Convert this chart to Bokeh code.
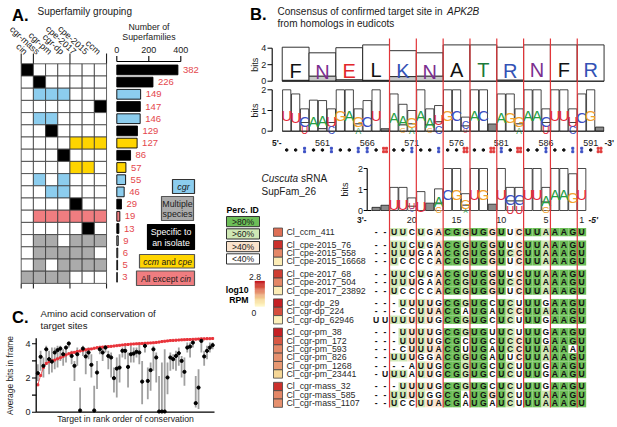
import numpy as np
from bokeh.plotting import figure
from bokeh.models import Range1d, ColumnDataSource, LinearColorMapper
from bokeh.layouts import row, column
from bokeh.embed import file_html
from bokeh.resources import INLINE
from bokeh.core.properties import value

FONT = "Liberation Sans"
NARROW = "Liberation Sans Narrow, Liberation Sans"

# ====================== DATA ======================
# ---- Panel A: superfamily grouping ----
isolates = ["cin", "cgr-mass", "cgr-pm", "cgr-dp", "cpe-2017", "cpe-2015", "ccm"]
superfamily_counts = [382, 226, 149, 147, 146, 129, 127, 86, 57, 55, 46, 29, 19, 13, 9, 6, 5, 3]
membership = ["1000000", "0100000", "0111000", "0000001", "0110000", "0010000",
              "0000111", "0001000", "0000110", "0101000", "0011000", "0000100",
              "0111111", "0000010", "0110111", "0111110", "0101111", "1111000"]
group_class = ["isolate", "isolate", "cgr", "isolate", "cgr", "isolate",
               "ccm_cpe", "isolate", "ccm_cpe", "cgr", "cgr", "isolate",
               "all_but_cin", "isolate", "multiple", "multiple", "multiple", "multiple"]
class_colors = {"isolate": "#000000", "cgr": "#8CCDEE", "ccm_cpe": "#FFD500",
                "all_but_cin": "#F07D80", "multiple": "#ABABAB"}
count_ticks = [0, 200, 400]

# ---- Panel B: logos ----
codon_aa = ["F", "N", "E", "L", "K", "N", "A", "T", "R", "N", "F", "R"]
aa_bits = [4.12, 3.44, 4.06, 4.40, 3.70, 3.44, 4.40, 4.40, 4.12, 4.40, 4.40, 4.40]
aa_minor_bits = [0.10, 0.60, 0.15, 0.10, 0.55, 0.60, 0.0, 0.0, 0.12, 0.0, 0.0, 0.0]
aa_colors = {"F": "#111111", "N": "#7B2E8F", "E": "#E2262B", "L": "#111111",
             "K": "#3352B5", "A": "#111111", "T": "#1B7A3B", "R": "#3352B5"}

nt_positions = list(range(557, 593))
nt_total = [2.0, 1.8, 1.08, 1.5, 1.48, 1.08, 2.0, 2.0, 1.08, 1.48, 2.0, 0.12,
            1.8, 1.3, 1.0, 2.0, 1.08, 1.24, 2.0, 2.0, 0.68, 2.0, 2.0, 0.35,
            1.8, 1.8, 1.08, 2.0, 2.0, 1.08, 2.0, 2.0, 1.08, 1.8, 2.0, 0.2]
nt_main = ["U", "U", "C", "A", "A", "U", "G", "A", "G", "C", "U", "",
           "A", "A", "G", "A", "A", "U", "G", "C", "C", "A", "C", "",
           "A", "G", "G", "A", "A", "C", "U", "U", "U", "C", "G", ""]
nt_second = ["", "", "U", "", "G", "C", "", "", "A", "", "", "",
             "", "G", "A", "", "G", "C", "", "", "U", "", "", "",
             "", "", "A", "", "", "U", "", "", "C", "", "", ""]
nt_second_bits = [0, 0, 0.42, 0, 0.12, 0.42, 0, 0, 0.35, 0, 0, 0,
                  0, 0.30, 0.35, 0, 0.30, 0.45, 0, 0, 0.25, 0, 0, 0,
                  0, 0, 0.35, 0, 0, 0.42, 0, 0, 0.42, 0, 0, 0]
pair_marks = "..b..b..bb.r..b..b..r..rb.r..b..bb.r"
pos_ticks = [561, 566, 571, 576, 581, 586, 591]

srna_pos = list(range(24, 0, -1))
sr_total = [0.15, 0.25, 1.1, 1.1, 0.6, 0.9, 0.35, 1.03, 2.0, 2.0, 0.8, 2.0,
            2.0, 0.3, 2.0, 1.1, 1.1, 2.0, 2.0, 1.1, 2.0, 2.0, 1.75, 2.0]
sr_main = ["", "", "U", "U", "U", "U", "", "A", "C", "G", "G", "U",
           "G", "", "U", "C", "C", "U", "U", "A", "A", "A", "G", "U"]
sr_second = ["", "", "", "", "C", "", "", "G", "", "", "A", "",
             "", "", "", "U", "U", "", "", "G", "", "", "", ""]
sr_second_bits = [0, 0, 0, 0, 0.2, 0, 0, 0.35, 0, 0, 0.25, 0,
                  0, 0, 0, 0.45, 0.45, 0, 0, 0.4, 0, 0, 0, 0]
srna_ticks = [20, 15, 10, 5, 1]

aln_names = ["Cl_ccm_411", "Cl_cpe-2015_76", "Cl_cpe-2015_558", "Cl_cpe-2015_16668",
             "Cl_cpe-2017_68", "Cl_cpe-2017_504", "Cl_cpe-2017_23892",
             "Cl_cgr-dp_29", "Cl_cgr-dp_224", "Cl_cgr-dp_62946",
             "Cl_cgr-pm_38", "Cl_cgr-pm_172", "Cl_cgr-pm_593", "Cl_cgr-pm_826",
             "Cl_cgr-pm_1268", "Cl_cgr-pm_23441",
             "Cl_cgr-mass_32", "Cl_cgr-mass_585", "Cl_cgr-mass_1107"]
aln_groups = [0, 1, 1, 1, 2, 2, 2, 3, 3, 3, 4, 4, 4, 4, 4, 4, 5, 5, 5]
aln_seqs = ["--UUCUGACGGUGGUUCUUAAAGU", "--UUCUGACGGUGGUUCUUAAAGU",
            "--UUUGAACGGUGGUCCUUAAAGU", "--UCCCCACGGUGGUUCUUAAAGU",
            "--UUCUGACGGUGGUUCUUAAAGU", "--UUUGAACGGUGGUCCUUAAAGU",
            "--UCCCCACGGUGGUUCUUAAAGU", "---UUUUGCGGUGCUCUUUGAAGU",
            "---CCUUACGAUGAUCCUUAAAGU", "UUUUUUUGCGGUGCUCUUUGAAGU",
            "---UUUUGCGGUGUUCUUUGAAGU", "---UUUUGCGCUGCUCCUUGAAGU",
            "---CUUUACGUUGAUCCUUAAAAU", "--UUUGGACGGUGAUUCUUAAAGU",
            "----AUUGCGGUGCUCUUUGAAGU", "-UUUAUUGCGGUGCUCUUUGAAGU",
            "---UUUUGCGGUGCUCUUUGAAGU", "--UUUUGGCGAUGGUCUUUAAAGU",
            "--UCCUUACGAUGAUCUUUAAAGU"]
rpm_log10 = [1.9, 2.5, 1.7, 0.3, 2.4, 1.7, 0.3, 2.7, 2.2, 0.2, 2.7, 2.1, 1.7, 1.6, 1.5, 0.8, 2.5, 1.7, 1.6]

# ---- Panel C: amino-acid conservation ----
target_rank = list(range(1, 64))
aa_mean = [2.28, 3.24, 2.71, 3.68, 3.10, 2.96, 3.49, 3.63, 3.72, 3.39, 3.78, 4.02, 3.29, 2.71, 3.39,
           0.10, 3.72, 3.26, 3.49, 2.77, 0.10, 2.32, 3.68, 3.49, 3.78, 3.29, 3.20, 1.99, 2.55, 2.61,
           3.59, 3.59, 2.65, 3.39, 3.43, 3.53, 3.49, 1.79, 3.88, 1.83, 2.46, 3.68, 3.20, 0.04, 0.04,
           0.04, 2.03, 3.20, 3.10, 3.29, 3.45, 3.00, 2.36, 3.78, 3.84, 4.07, 0.53, 1.44, 4.17, 3.26,
           3.59, 3.78, 3.92]
aa_hi = [2.81, 3.59, 3.20, 3.88, 3.59, 3.78, 3.78, 3.88, 3.88, 3.68, 3.88, 4.11, 3.59, 3.00, 3.78,
         1.44, 3.88, 3.59, 3.78, 3.39, 1.54, 3.00, 3.88, 3.78, 3.92, 3.59, 3.49, 2.61, 3.20, 3.39,
         3.78, 3.88, 3.49, 3.88, 3.78, 3.78, 3.98, 3.00, 4.07, 2.61, 2.90, 3.88, 3.49, 2.12, 2.90,
         3.68, 2.90, 3.49, 3.39, 3.59, 3.78, 3.29, 3.20, 4.07, 4.07, 4.17, 2.12, 2.51, 4.27, 3.59,
         3.88, 4.07, 4.07]
aa_lo = [1.83, 2.42, 2.03, 2.81, 2.22, 2.32, 2.51, 2.61, 3.00, 2.71, 2.90, 3.78, 2.81, 1.83, 2.71,
         0.0, 3.29, 2.22, 3.10, 2.03, 0.0, 1.35, 3.39, 3.00, 3.49, 2.51, 2.03, 1.15, 0.86, 1.73,
         3.20, 3.10, 1.44, 2.90, 2.90, 3.20, 2.81, 0.47, 3.49, 0.76, 1.25, 2.42, 1.73, 0.0, 0.0,
         0.0, 1.05, 2.42, 2.51, 2.42, 2.71, 2.03, 1.54, 3.49, 3.20, 3.78, 0.27, 0.18, 3.49, 2.71,
         3.10, 3.49, 3.68]
nt_conservation = [1.60, 2.15, 2.62, 2.85, 2.95, 3.00, 3.05, 3.12, 3.18, 3.27,
                   3.35, 3.42, 3.47, 3.50, 3.55, 3.58, 3.62, 3.65, 3.68, 3.70,
                   3.74, 3.77, 3.79, 3.81, 3.82, 3.84, 3.85, 3.87, 3.89, 3.91,
                   3.93, 3.95, 3.96, 3.98, 3.99, 4.00, 4.01, 4.02, 4.03, 4.04,
                   4.05, 4.06, 4.08, 4.10, 4.13, 4.15, 4.17, 4.19, 4.20, 4.21,
                   4.22, 4.23, 4.24, 4.25, 4.25, 4.26, 4.27, 4.28, 4.29, 4.29,
                   4.30, 4.30, 4.31]
bits_ticks = [0, 1, 2, 3, 4]

NT_COL = {"A": "#25A043", "C": "#3B4FC4", "G": "#F2A22C", "U": "#E5283A"}

# page geometry (pixels of the 617 x 427 page)
W, H, XSPLIT, YSPLIT = 617, 427, 220, 300

# ====================== HELPERS ======================
def lin(ref_a, val_a, ref_b, val_b):
    k = (val_b - val_a) / (ref_b - ref_a)
    return lambda ref: val_a + (ref - ref_a) * k


def mkfig(w, h, xr, yr):
    p = figure(width=w, height=h, x_range=xr, y_range=yr, output_backend="svg",
               toolbar_location=None, x_axis_type=None, y_axis_type=None,
               min_border=0, min_border_left=0, min_border_right=0,
               min_border_top=0, min_border_bottom=0)
    p.outline_line_color = None
    p.background_fill_color = "white"
    p.border_fill_color = "white"
    return p


def txt(p, x, y, s, size, color="#1a1a1a", align="left", baseline="middle",
        style="normal", angle=0.0, xr="px", yr="py", font=FONT):
    xs = list(x) if isinstance(x, (list, tuple)) else [x]
    n = len(xs)
    ys = list(y) if isinstance(y, (list, tuple)) else [y] * n
    if len(ys) > n:
        xs = xs * len(ys)
        n = len(ys)
    ss = list(s) if isinstance(s, (list, tuple)) else [s] * n
    src = ColumnDataSource(dict(x=xs, y=ys, t=ss))
    p.text(x="x", y="y", text="t", source=src, text_font=value(font),
           text_font_size=f"{size}px", text_color=color, text_align=align,
           text_baseline=baseline, text_font_style=style, angle=angle,
           x_range_name=xr, y_range_name=yr)


def draw_logo(p, xs, totals, mains, seconds, sec_bits, yname, ppb, maxfont, colors, font,
              boxw=0.92, empty_fill="#8a8a8a"):
    left = [x - boxw / 2 for x in xs]
    right = [x + boxw / 2 for x in xs]
    mb = [sb if s else 0.0 for s, sb in zip(seconds, sec_bits)]
    fill = ["white" if m else empty_fill for m in mains]
    p.quad(left=left, right=right, bottom=mb, top=totals, fill_color=fill,
           line_color="#1a1a1a", line_width=0.8, y_range_name=yname)
    idx = [i for i, s in enumerate(seconds) if s]
    if idx:
        p.quad(left=[left[i] for i in idx], right=[right[i] for i in idx],
               bottom=[0.0] * len(idx), top=[sec_bits[i] for i in idx],
               fill_color="white", line_color="#1a1a1a", line_width=0.7, y_range_name=yname)
    lx, ly, lt, lc, lf = [], [], [], [], []
    for i, x in enumerate(xs):
        entries = []
        if mains[i]:
            entries.append((mains[i], mb[i], totals[i]))
        if seconds[i]:
            entries.append((seconds[i], 0.0, sec_bits[i]))
        for letter, b0, b1 in entries:
            hpx = (b1 - b0) * ppb
            f = min(maxfont, hpx * 0.84 / 0.716)
            if f < 4.5:
                continue
            cap = 0.716 * f
            lx.append(x)
            ly.append((b0 + b1) / 2 - (cap / 2) / ppb)
            lt.append(letter)
            lc.append(colors[letter])
            lf.append(f"{f:.1f}px")
    src = ColumnDataSource(dict(x=lx, y=ly, t=lt, c=lc, f=lf))
    p.text(x="x", y="y", text="t", text_color="c", text_font_size="f", source=src,
           text_align="center", text_baseline="alphabetic", text_font=value(font),
           y_range_name=yname)


# ====================== PANEL A ======================
colx = lin(26.8, 0, 38.99, 1)          # matrix column index
rowy = lin(69.4, 0, 81.6, 1)           # row index
barv = lin(116.3, 0, 180.3, 400)       # superfamily count
pA = mkfig(XSPLIT, YSPLIT, Range1d(colx(0), colx(XSPLIT)), Range1d(rowy(YSPLIT), rowy(0)))
pA.extra_x_ranges = {"bars": Range1d(barv(0), barv(XSPLIT)), "px": Range1d(0, XSPLIT)}
pA.extra_y_ranges = {"py": Range1d(YSPLIT, 0)}

cx, cy, cc = [], [], []
for r, (mem, cls) in enumerate(zip(membership, group_class)):
    for c, ch in enumerate(mem):
        cx.append(c)
        cy.append(r)
        cc.append(class_colors[cls] if ch == "1" else "white")
pA.rect(x=cx, y=cy, width=1, height=1, fill_color=cc, line_color="#3a3a3a", line_width=0.8)
sep = [-0.5, 0.5, 3.5, 6.5]
pA.segment(x0=sep, y0=[rowy(53)] * 4, x1=sep, y1=[-0.5] * 4, line_color="#222", line_width=1.1)
pA.segment(x0=sep, y0=[17.5] * 4, x1=sep, y1=[rowy(288)] * 4, line_color="#222", line_width=1.1)

rows = list(range(len(superfamily_counts)))
pA.hbar(y=rows, left=0, right=superfamily_counts, height=0.8,
        fill_color=[class_colors[c] for c in group_class], line_color="black",
        line_width=0.9, x_range_name="bars")
src_v = ColumnDataSource(dict(x=superfamily_counts, y=rows, t=[str(v) for v in superfamily_counts]))
pA.text(x="x", y="y", text="t", source=src_v, x_offset=5, x_range_name="bars",
        text_color="#E4474C", text_font_size="9.5px", text_baseline="middle",
        text_font=value(FONT))
# count axis (top)
pA.segment(x0=[0], y0=[61], x1=[400], y1=[61], x_range_name="bars", y_range_name="py",
           line_color="black", line_width=1.1)
pA.segment(x0=count_ticks, y0=[55.5] * 3, x1=count_ticks, y1=[61] * 3,
           x_range_name="bars", y_range_name="py", line_color="black", line_width=1.1)
txt(pA, count_ticks, 49.5, [str(t) for t in count_ticks], 9, align="center", xr="bars")
txt(pA, 148.5, 26, "Number of", 8.8, align="center")
txt(pA, 148.5, 36.5, "Superfamilies", 8.8, align="center")
# isolate column labels, slanted down to the right
txt(pA, [c - 0.1 for c in range(7)], 52.5, isolates, 9, align="right",
    angle=-0.75, xr="default")
txt(pA, 11.5, 14, "A.", 16.5, style="bold", color="black")
txt(pA, 37, 11, "Superfamily grouping", 10)

# legend boxes
lg = [(172, 194, 179, 193, class_colors["cgr"], "#333"),
      (161, 193, 196, 220, class_colors["multiple"], "#555"),
      (147, 194, 224, 249, class_colors["isolate"], "#000"),
      (139, 194, 254, 267.5, class_colors["ccm_cpe"], "#555"),
      (136, 194, 270.5, 285, class_colors["all_but_cin"], "#555")]
pA.quad(left=[a[0] for a in lg], right=[a[1] for a in lg], top=[a[2] for a in lg],
        bottom=[a[3] for a in lg], fill_color=[a[4] for a in lg], line_color=[a[5] for a in lg],
        line_width=1.2, x_range_name="px", y_range_name="py")
txt(pA, 183, 186, "cgr", 9, style="italic", align="center")
txt(pA, 177, 203, "Multiple", 8.8, align="center")
txt(pA, 177, 213.5, "species", 8.8, align="center")
txt(pA, 170.5, 231, "Specific to", 8.8, align="center", color="white")
txt(pA, 170.5, 242, "an isolate", 8.8, align="center", color="white")
txt(pA, 142.7, 261, "ccm", 8.6, style="italic")
txt(pA, 160.9, 261, "and", 8.6)
txt(pA, 177.6, 261, "cpe", 8.6, style="italic")
txt(pA, 140.5, 278, "All except", 8.5)
txt(pA, 179.5, 278, "cin", 8.5, style="italic")

# ====================== PANEL C ======================
ix = lin(37.3, 1, 40.12, 2)
by = lin(411.7, 0, 394.6, 1)
pC = mkfig(XSPLIT, H - YSPLIT, Range1d(ix(0), ix(XSPLIT)), Range1d(by(H), by(YSPLIT)))
pC.extra_x_ranges = {"px": Range1d(0, XSPLIT)}
pC.extra_y_ranges = {"py": Range1d(H, YSPLIT)}
pC.segment(x0=target_rank, y0=aa_lo, x1=target_rank, y1=aa_hi, line_color="#a0a0a0", line_width=1.8)
pC.line(target_rank, nt_conservation, line_color="#E8333A", line_width=0.8)
pC.scatter(target_rank, nt_conservation, marker="square", size=2.0, color="#E8333A")
pC.scatter(target_rank, aa_mean, size=3.2, color="black")
pC.segment(x0=[35.7], y0=[0], x1=[35.7], y1=[4.32], x_range_name="px", line_color="black", line_width=1.3)
pC.segment(x0=[31.5] * 5, y0=bits_ticks, x1=[35.7] * 5, y1=bits_ticks, x_range_name="px",
           line_color="black", line_width=1.1)
pC.segment(x0=[35.7], y0=[0], x1=[214], y1=[0], x_range_name="px", line_color="black", line_width=1.3)
txt(pC, 30, [0, 2, 4], ["0", "2", "4"], 9, align="right", yr="default")
txt(pC, 9, 375, "Average bits in frame", 8.4, align="center", angle=np.pi / 2)
txt(pC, 125, 418.5, "Target in rank order of conservation", 8.7, align="center")
txt(pC, 11.5, 316, "C.", 16.5, style="bold", color="black")
txt(pC, 40, 313, "Amino acid conservation of", 9.6)
txt(pC, 40, 325, "target sites", 9.6)

# ====================== PANEL B ======================
ntx = lin(286.2, 557, 295.14, 558)
aab = lin(80.7, 0, 72.45, 1)
ntb = lin(130.7, 0, 110.0, 1)
srb = lin(210.0, 0, 189.0, 1)
alq = lin(231.7, 0, 240.04, 1)
pB = mkfig(W - XSPLIT, H, Range1d(ntx(XSPLIT), ntx(W)), Range1d(H, 0))
pB.extra_x_ranges = {"px": Range1d(XSPLIT, W)}
pB.extra_y_ranges = {"py": Range1d(H, 0), "aa": Range1d(aab(H), aab(0)),
                     "nt": Range1d(ntb(H), ntb(0)), "sr": Range1d(srb(H), srb(0)),
                     "aln": Range1d(alq(H), alq(0))}

txt(pB, 249.5, 13, "B.", 16.5, style="bold", color="black")
txt(pB, 277, 10.5, "Consensus of confirmed target site in", 10)
txt(pB, 446.5, 10.5, "APK2B", 10, style="italic")
txt(pB, 277, 22.5, "from homologs in eudicots", 10)

# amino-acid logo
codon_center = [558 + 3 * i for i in range(12)]
pB.quad(left=[c - 1.5 for c in codon_center], right=[c + 1.5 for c in codon_center],
        bottom=aa_minor_bits, top=aa_bits, fill_color="white", line_color="#1a1a1a",
        line_width=0.9, y_range_name="aa")
mi = [i for i, m in enumerate(aa_minor_bits) if m > 0]
pB.quad(left=[codon_center[i] - 1.5 for i in mi], right=[codon_center[i] + 1.5 for i in mi],
        bottom=[0] * len(mi), top=[aa_minor_bits[i] for i in mi], fill_color="#c8c8c8",
        line_color="#1a1a1a", line_width=0.8, y_range_name="aa")
aa_font = 20
aa_y = [(m + t) / 2 - (0.716 * aa_font / 2) / 8.25 for m, t in zip(aa_minor_bits, aa_bits)]
src_aa = ColumnDataSource(dict(x=codon_center, y=aa_y, t=codon_aa, c=[aa_colors[a] for a in codon_aa]))
pB.text(x="x", y="y", text="t", text_color="c", source=src_aa, text_font_size=f"{aa_font}px",
        text_align="center", text_baseline="alphabetic", text_font=value(FONT), y_range_name="aa")

# nucleotide logo
draw_logo(pB, nt_positions, nt_total, nt_main, nt_second, nt_second_bits, "nt", 20.7, 15,
          NT_COL, NARROW)

# logo axes
pB.segment(x0=[271.7, 271.7], y0=[47.7, 89.3], x1=[271.7, 271.7], y1=[80.7, 130.7],
           x_range_name="px", line_color="black", line_width=1.1)
ty = [47.7, 64.2, 80.7, 89.3, 110.0, 130.7]
pB.segment(x0=[267] * 6, y0=ty, x1=[271.7] * 6, y1=ty, x_range_name="px",
           line_color="black", line_width=1.0)
txt(pB, 265.8, ty, ["4", "2", "0", "2", "1", "0"], 9, align="right")
txt(pB, 254, [64.2, 110.0], ["bits", "bits"], 9, align="center", angle=np.pi / 2)
pB.segment(x0=[281.7, 281.7], y0=[80.7, 130.7], x1=[603.5, 603.5], y1=[80.7, 130.7],
           x_range_name="px", line_color="#1a1a1a", line_width=0.9)

# position labels
txt(pB, pos_ticks, 142, [str(t) for t in pos_ticks], 9, align="center", xr="default")
txt(pB, 271.5, 142, "5'-", 8.5, style="bold")
txt(pB, 604, 142, "-3'", 8.5, style="bold")

# pairing marks
dx = [nt_positions[i] for i, m in enumerate(pair_marks) if m == "."]
pB.scatter(dx, [149.5] * len(dx), size=2.6, color="#111111")
bx = [nt_positions[i] for i, m in enumerate(pair_marks) if m == "b"]
pB.scatter(bx + bx, [147.8] * len(bx) + [151.2] * len(bx), size=2.0, color="#3B4FC4", marker="square")
rx = [nt_positions[i] for i, m in enumerate(pair_marks) if m == "r"]
rxx = [x - 0.16 for x in rx] + [x + 0.16 for x in rx]
pB.scatter(rxx + rxx, [147.8] * len(rxx) + [151.2] * len(rxx), size=2.0, color="#E03A3A", marker="square")

# sRNA logo
sr_x = [591 - k for k in srna_pos]
txt(pB, 261, 178, "Cuscuta", 10, style="italic")
txt(pB, 300.5, 178, "sRNA", 10)
txt(pB, 261, 191, "SupFam_26", 10)
draw_logo(pB, sr_x, sr_total, sr_main, sr_second, sr_second_bits, "sr", 21.0, 15, NT_COL, NARROW)
pB.segment(x0=[366.7], y0=[168], x1=[366.7], y1=[210], x_range_name="px", line_color="black", line_width=1.1)
pB.segment(x0=[363.2] * 3 + [366.7], y0=[168, 189, 210, 210], x1=[366.7] * 3 + [371],
           y1=[168, 189, 210, 210], x_range_name="px", line_color="black", line_width=1.0)
txt(pB, 362.5, [168, 189, 210], ["2", "1", "0"], 9, align="right")
txt(pB, 344, 189, "bits", 9, align="center", angle=np.pi / 2)
txt(pB, [591 - k for k in srna_ticks], 219.5, [str(k) for k in srna_ticks], 9, align="center", xr="default")
txt(pB, 356.5, 219.5, "3'-", 8.5, style="bold")
txt(pB, 588, 219.5, "-5'", 8.5, style="bold italic")

# Perc. ID legend
txt(pB, 226, 209.5, "Perc. ID", 8.7, style="bold", color="black")
pid_cols = ["#6DBE58", "#CFE8B5", "#F9E2CB", "#FFFFFF"]
pid_lab = [">80%", ">60%", ">40%", "<40%"]
pid_top = [216, 228.3, 241, 253.3]
pB.quad(left=[226] * 4, right=[259] * 4, top=pid_top, bottom=[t + 10.2 for t in pid_top],
        fill_color=pid_cols, line_color="#333", line_width=1.0, x_range_name="px", y_range_name="py")
txt(pB, 242.5, [t + 5.3 for t in pid_top], pid_lab, 8.6, align="center")

# RPM colour scale
stops = [(0.0, (255, 247, 196)), (0.8, (245, 214, 150)), (1.6, (230, 144, 110)),
         (2.2, (214, 80, 62)), (2.8, (194, 22, 30))]
pal = []
for t in np.linspace(0, 2.8, 64):
    for (a, ca), (b, cb) in zip(stops[:-1], stops[1:]):
        if a <= t <= b + 1e-9:
            f = (t - a) / (b - a)
            rgb = [int(round(ca[j] + f * (cb[j] - ca[j]))) for j in range(3)]
            pal.append("#%02x%02x%02x" % tuple(rgb))
            break
rpm_mapper = LinearColorMapper(palette=pal, low=0, high=2.8)
grad_v = [float(v) for v in np.linspace(0, 2.8, 30)]
grad_y = [305.5 - v / 2.8 * 24.5 for v in grad_v]
src_g = ColumnDataSource(dict(x=[259.3] * 30, y=grad_y, v=grad_v))
pB.rect(x="x", y="y", width=10, height=1.2, x_range_name="px", y_range_name="py",
        fill_color={"field": "v", "transform": rpm_mapper}, line_color=None, source=src_g)
txt(pB, 254.5, 276, "2.8", 8.6, align="center")
txt(pB, 253.5, 312.5, "0", 8.6, align="center")
txt(pB, 248, 289.5, "log10", 8.7, style="bold", align="right", color="black")
txt(pB, 248, 299, "RPM", 8.7, style="bold", align="right", color="black")

# alignment
aln_q = [i + 0.5 * g for i, g in enumerate(aln_groups)]
ncol = len(aln_seqs[0])
col_nt = [567 + m for m in range(ncol)]
cell_x, cell_y, cell_c = [], [], []
let_x, let_y, let_t = [], [], []
nseq = len(aln_seqs)
for m in range(ncol):
    letters = [s[m] for s in aln_seqs]
    counts = {}
    for L in letters:
        if L != "-":
            counts[L] = counts.get(L, 0) + 1
    cons = max(counts, key=counts.get) if counts else None
    pct = counts.get(cons, 0) / nseq if cons else 0
    if pct > 0.8:
        colr = pid_cols[0]
    elif pct > 0.6:
        colr = pid_cols[1]
    elif pct > 0.4:
        colr = pid_cols[2]
    else:
        colr = None
    for i, L in enumerate(letters):
        let_x.append(col_nt[m])
        let_y.append(aln_q[i])
        let_t.append(L)
        if L == cons and colr:
            cell_x.append(col_nt[m])
            cell_y.append(aln_q[i])
            cell_c.append(colr)
pB.rect(x=cell_x, y=cell_y, width=1, height=1, fill_color=cell_c, line_color=None, y_range_name="aln")

# codon boundaries
bnd = [557 + 3 * c - 0.5 for c in range(4, 12)]
pB.segment(x0=bnd, y0=[38] * len(bnd), x1=bnd, y1=[407] * len(bnd), line_color="#E2363A", line_width=1.2)

src_l = ColumnDataSource(dict(x=let_x, y=let_y, t=let_t))
pB.text(x="x", y="y", text="t", source=src_l, y_range_name="aln", text_align="center",
        text_baseline="middle", text_font_size="8.6px", text_font_style="bold",
        text_font=value(FONT), text_color="#111111")

src_r = ColumnDataSource(dict(x=[277.5] * nseq, y=aln_q, v=rpm_log10))
pB.rect(x="x", y="y", width=9, height=1, source=src_r, x_range_name="px", y_range_name="aln",
        fill_color={"field": "v", "transform": rpm_mapper}, line_color="#444", line_width=0.8)
txt(pB, 286, aln_q, aln_names, 8.8, color="#2a2a2a", yr="aln")

layout = row(column(pA, pC, spacing=0), pB, spacing=0)
with open("out.html", "w") as fh:
    fh.write(file_html(layout, INLINE))
